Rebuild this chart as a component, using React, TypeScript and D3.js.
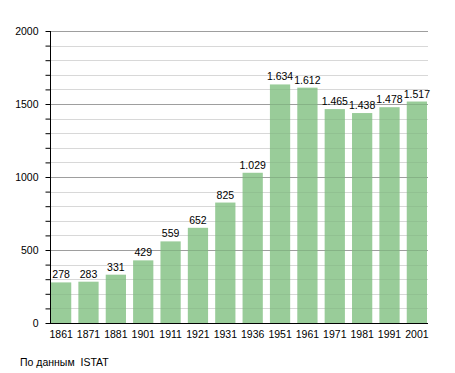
import React, { useEffect, useRef } from 'react';
import * as d3 from 'd3';

const years = ['1861', '1871', '1881', '1901', '1911', '1921', '1931', '1936', '1951', '1961', '1971', '1981', '1991', '2001'];
const population = [278, 283, 331, 429, 559, 652, 825, 1029, 1634, 1612, 1465, 1438, 1478, 1517];
const yTicks = [0, 500, 1000, 1500, 2000];

const App = () => {
    const svgRef = useRef<SVGSVGElement>(null);

    useEffect(() => {
        const svg = d3.select(svgRef.current);
        svg.selectAll('*').remove();

        const width = 455;
        const height = 373;
        const left = 50, right = 427, top = 31, bottom = 323;
        const font = 'Liberation Sans, Arial, sans-serif';
        const fontSize = '10.5px';

        svg.attr('width', width).attr('height', height);

        const x = d3.scaleBand<string>()
            .domain(years)
            .range([left + 1, right])
            .paddingInner(0.26)
            .paddingOuter(0);

        const y = d3.scaleLinear()
            .domain([0, 2000])
            .range([bottom, top]);

        const minor = d3.range(100, 2001, 100);

        // gridlines behind the bars
        svg.append('g')
            .selectAll('line')
            .data(minor)
            .enter().append('line')
            .attr('x1', left)
            .attr('x2', right + 1)
            .attr('y1', d => Math.round(y(d)) + 0.5)
            .attr('y2', d => Math.round(y(d)) + 0.5)
            .attr('stroke', d => (d % 500 === 0 ? '#b4b4b4' : '#e4e4e4'))
            .attr('stroke-width', 1);

        // bars
        svg.append('g')
            .selectAll('rect')
            .data(population)
            .enter().append('rect')
            .attr('x', (d, i) => x(years[i])!)
            .attr('y', d => y(d))
            .attr('width', x.bandwidth())
            .attr('height', d => bottom - y(d))
            .attr('fill', '#99cc99');

        // faint gridlines showing through the bars
        svg.append('g')
            .selectAll('line')
            .data(minor)
            .enter().append('line')
            .attr('x1', left)
            .attr('x2', right + 1)
            .attr('y1', d => Math.round(y(d)) + 0.5)
            .attr('y2', d => Math.round(y(d)) + 0.5)
            .attr('stroke', '#000')
            .attr('stroke-opacity', d => (d % 500 === 0 ? 0.12 : 0.05))
            .attr('stroke-width', 1);

        // value labels
        svg.append('g')
            .selectAll('text')
            .data(population)
            .enter().append('text')
            .attr('x', (d, i) => x(years[i])! + x.bandwidth() / 2)
            .attr('y', d => y(d) - 4)
            .attr('text-anchor', 'middle')
            .attr('font-family', font)
            .attr('font-size', fontSize)
            .attr('fill', '#000')
            .text(d => d3.format(',')(d).replace(',', '.'));

        // y axis
        const yAxis = d3.axisLeft(y)
            .tickValues(d3.range(0, 2001, 100))
            .tickSize(5)
            .tickFormat(d => (yTicks.includes(+d) ? String(d) : ''));

        const gy = svg.append('g')
            .attr('transform', `translate(${left + 0.5},0)`)
            .call(yAxis);
        gy.select('.domain').attr('stroke', '#000');
        gy.selectAll('.tick line').attr('stroke', '#000');
        gy.selectAll('.tick text')
            .attr('x', -12)
            .attr('font-family', font)
            .attr('font-size', fontSize)
            .attr('fill', '#000');
        gy.select('.domain').attr('d', `M0,${top}V${bottom}`);

        // x axis
        const xAxis = d3.axisBottom(x).tickSize(0);
        const gx = svg.append('g')
            .attr('transform', `translate(0,${bottom + 0.5})`)
            .call(xAxis);
        gx.select('.domain').attr('stroke', '#000').attr('d', `M${left},0H${right + 1}`);
        gx.selectAll('.tick text')
            .attr('y', 7)
            .attr('font-family', font)
            .attr('font-size', fontSize)
            .attr('fill', '#000');

        // source note
        svg.append('text')
            .attr('x', 20)
            .attr('y', 366)
            .attr('font-family', font)
            .attr('font-size', fontSize)
            .attr('fill', '#000')
            .text('По данным  ISTAT')
            .style('white-space', 'pre');
    }, []);

    return (
        <svg ref={svgRef} style={{ position: 'absolute', left: 0, top: 0, background: '#fff' }}></svg>
    );
};

export default App;
